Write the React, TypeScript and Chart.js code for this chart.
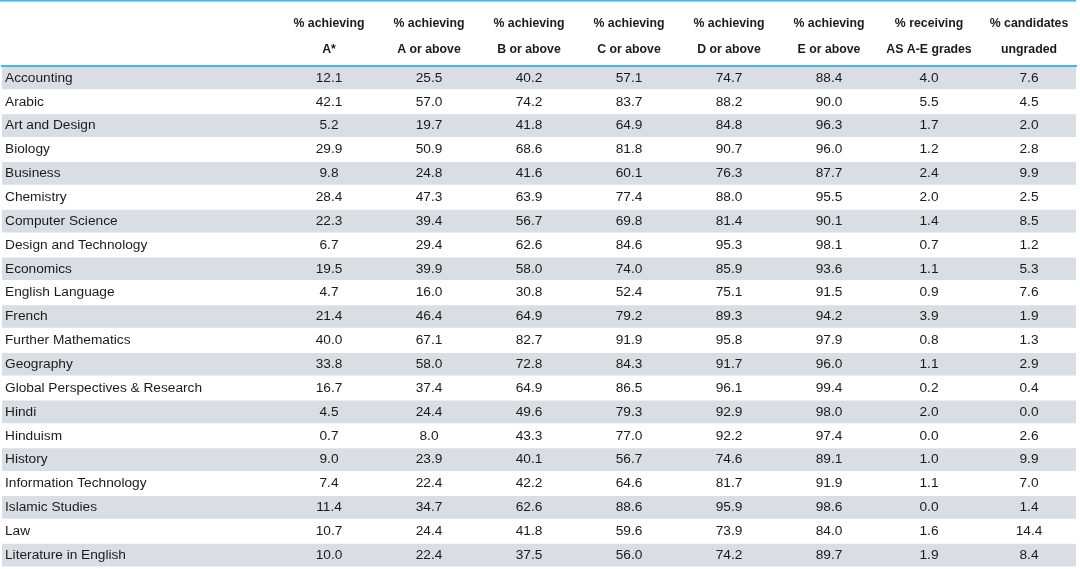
import React, { useEffect, useRef } from 'react';
import { Chart, registerables } from 'chart.js';

Chart.register(...registerables);

const subjects = [
  'Accounting', 'Arabic', 'Art and Design', 'Biology', 'Business', 'Chemistry',
  'Computer Science', 'Design and Technology', 'Economics', 'English Language',
  'French', 'Further Mathematics', 'Geography', 'Global Perspectives & Research',
  'Hindi', 'Hinduism', 'History', 'Information Technology', 'Islamic Studies',
  'Law', 'Literature in English',
];

const headers = [
  ['% achieving', 'A*'],
  ['% achieving', 'A or above'],
  ['% achieving', 'B or above'],
  ['% achieving', 'C or above'],
  ['% achieving', 'D or above'],
  ['% achieving', 'E or above'],
  ['% receiving', 'AS A-E grades'],
  ['% candidates', 'ungraded'],
];

const aStar = [12.1, 42.1, 5.2, 29.9, 9.8, 28.4, 22.3, 6.7, 19.5, 4.7, 21.4, 40.0, 33.8, 16.7, 4.5, 0.7, 9.0, 7.4, 11.4, 10.7, 10.0];
const aOrAbove = [25.5, 57.0, 19.7, 50.9, 24.8, 47.3, 39.4, 29.4, 39.9, 16.0, 46.4, 67.1, 58.0, 37.4, 24.4, 8.0, 23.9, 22.4, 34.7, 24.4, 22.4];
const bOrAbove = [40.2, 74.2, 41.8, 68.6, 41.6, 63.9, 56.7, 62.6, 58.0, 30.8, 64.9, 82.7, 72.8, 64.9, 49.6, 43.3, 40.1, 42.2, 62.6, 41.8, 37.5];
const cOrAbove = [57.1, 83.7, 64.9, 81.8, 60.1, 77.4, 69.8, 84.6, 74.0, 52.4, 79.2, 91.9, 84.3, 86.5, 79.3, 77.0, 56.7, 64.6, 88.6, 59.6, 56.0];
const dOrAbove = [74.7, 88.2, 84.8, 90.7, 76.3, 88.0, 81.4, 95.3, 85.9, 75.1, 89.3, 95.8, 91.7, 96.1, 92.9, 92.2, 74.6, 81.7, 95.9, 73.9, 74.2];
const eOrAbove = [88.4, 90.0, 96.3, 96.0, 87.7, 95.5, 90.1, 98.1, 93.6, 91.5, 94.2, 97.9, 96.0, 99.4, 98.0, 97.4, 89.1, 91.9, 98.6, 84.0, 89.7];
const asGrades = [4.0, 5.5, 1.7, 1.2, 2.4, 2.0, 1.4, 0.7, 1.1, 0.9, 3.9, 0.8, 1.1, 0.2, 2.0, 0.0, 1.0, 1.1, 0.0, 1.6, 1.9];
const ungraded = [7.6, 4.5, 2.0, 2.8, 9.9, 2.5, 8.5, 1.2, 5.3, 7.6, 1.9, 1.3, 2.9, 0.4, 0.0, 2.6, 9.9, 7.0, 1.4, 14.4, 8.4];

const columns = [aStar, aOrAbove, bOrAbove, cOrAbove, dOrAbove, eOrAbove, asGrades, ungraded];

// layout of the column axis (in column units; the subject column sits left of 0)
const X_MIN = -3.27;
const X_MAX = 7.47;

const FONT = '"Liberation Sans", Arial, Helvetica, sans-serif';
const TEXT = '#1b1b1b';
const STRIPE = '#D9DEE4';
const BLUE = '#45B6E6';

export default function App() {
  const ref = useRef<HTMLCanvasElement>(null);

  useEffect(() => {
    document.body.style.margin = '0';
    const canvas = ref.current;
    if (!canvas) return;

    const stripes = subjects.map((_, i) => (i % 2 === 0 ? [X_MIN, X_MAX] : null));

    const cellPlugin = {
      id: 'cells',
      beforeDraw(chart: any) {
        const { ctx, chartArea } = chart;
        ctx.save();
        ctx.fillStyle = BLUE;
        ctx.fillRect(0, 0, chartArea.right, 1.6);
        ctx.restore();
      },
      afterDatasetsDraw(chart: any) {
        const { ctx } = chart;
        const xs = chart.scales.x;
        const ys = chart.scales.y;
        ctx.save();
        ctx.font = `13.7px ${FONT}`;
        ctx.fillStyle = TEXT;
        ctx.textAlign = 'center';
        ctx.textBaseline = 'middle';
        columns.forEach((col, c) => {
          col.forEach((v, r) => {
            ctx.fillText(v.toFixed(1), xs.getPixelForValue(c), ys.getPixelForValue(r));
          });
        });
        ctx.restore();
      },
    };

    const chart = new Chart(canvas, {
      type: 'bar',
      data: {
        labels: subjects,
        datasets: [
          {
            data: stripes as any,
            backgroundColor: STRIPE,
            barPercentage: 1,
            categoryPercentage: 0.95,
            borderWidth: 0,
            borderSkipped: false,
          },
        ],
      },
      options: {
        animation: false,
        responsive: false,
        indexAxis: 'y',
        layout: { padding: { left: 2, right: 4, top: 0, bottom: 2 } },
        plugins: { legend: { display: false }, tooltip: { enabled: false } },
        scales: {
          x: {
            type: 'linear',
            position: 'top',
            min: X_MIN,
            max: X_MAX,
            afterBuildTicks: (s: any) => {
              s.ticks = headers.map((_, i) => ({ value: i }));
            },
            afterFit: (s: any) => {
              s.height = 66;
              s.paddingLeft = 0;
              s.paddingRight = 0;
            },
            grid: { display: false, drawTicks: false },
            border: { display: true, color: BLUE, width: 2, z: 1 },
            ticks: {
              autoSkip: false,
              maxRotation: 0,
              minRotation: 0,
              padding: 3,
              crossAlign: 'near',
              color: TEXT,
              font: { family: FONT, size: 12.3, weight: 'bold', lineHeight: 2.15 },
              callback: (v: any) => headers[Number(v)] ?? '',
            },
          },
          y: {
            type: 'category',
            grid: { display: false, drawTicks: false },
            border: { display: false },
            afterFit: (s: any) => {
              s.width = 0;
              s.paddingTop = 0;
              s.paddingBottom = 0;
            },
            ticks: {
              z: 1,
              mirror: true,
              padding: 3,
              autoSkip: false,
              color: TEXT,
              font: { family: FONT, size: 13.7 },
            },
          },
        },
      },
      plugins: [cellPlugin],
    });

    return () => chart.destroy();
  }, []);

  return (
    <div style={{ width: 1080, height: 569, background: '#fff' }}>
      <canvas ref={ref} width={1080} height={569} style={{ display: 'block' }} />
    </div>
  );
}
